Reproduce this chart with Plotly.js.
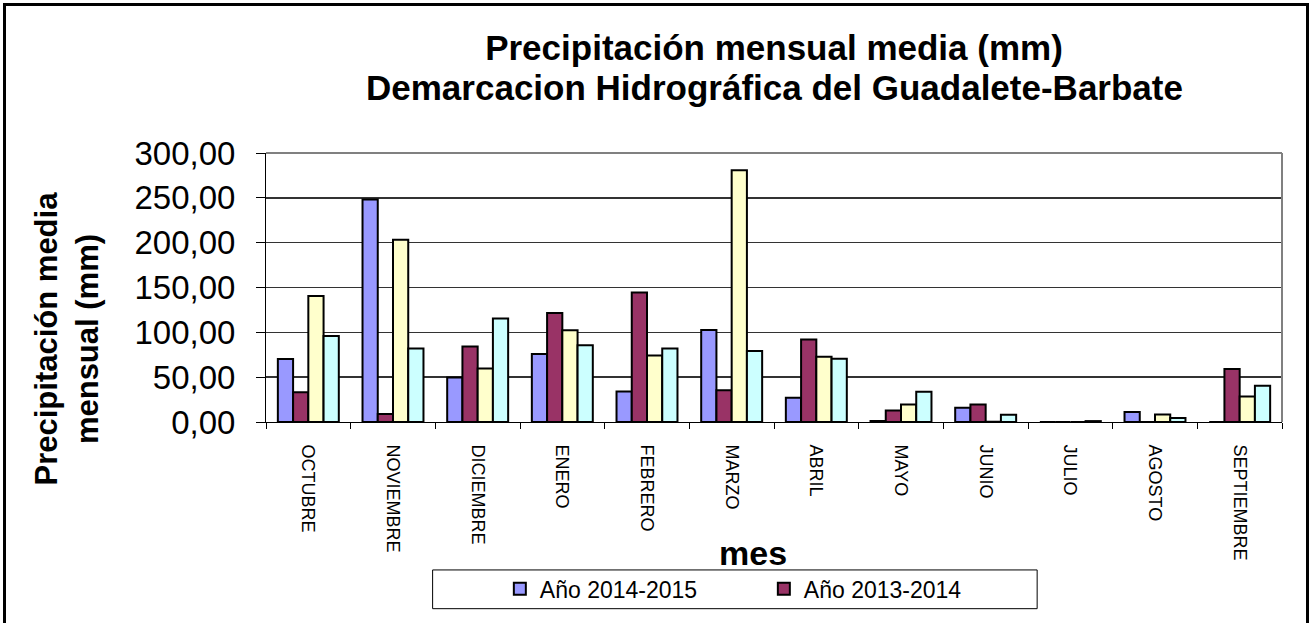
<!DOCTYPE html>
<html>
<head>
<meta charset="utf-8">
<script src="https://cdn.plot.ly/plotly-3.0.1.min.js"></script>
<style>
  html, body { margin: 0; padding: 0; background: #fff; overflow: hidden; }
  #wrap { position: relative; width: 1313px; height: 623px; }
  #chart { position: absolute; left: 0; top: 0; width: 1313px; height: 623px; }
  #frame {
    position: absolute; left: 3px; top: 3px; width: 1300px; height: 640px;
    border: 3px solid #000; pointer-events: none;
  }
</style>
</head>
<body>
<div id="wrap">
  <div id="chart"></div>
  <div id="frame"></div>
</div>
<script>
// Monthly mean rainfall (mm)
const months = ['OCTUBRE', 'NOVIEMBRE', 'DICIEMBRE', 'ENERO', 'FEBRERO', 'MARZO',
                'ABRIL', 'MAYO', 'JUNIO', 'JULIO', 'AGOSTO', 'SEPTIEMBRE'];

const year1415 = [70.2, 248.2, 49.5, 75.7, 34.0, 102.7, 27.0, 1.1, 15.9, 0, 11.1, 0];
const year1314 = [33.2, 8.9, 84.2, 121.5, 144.4, 35.5, 92.0, 12.9, 19.6, 0, 0, 59.1];
const series3 = [140.4, 203.2, 59.8, 102.3, 74.3, 280.8, 72.8, 19.6, 0.3, 0, 8.5, 28.4];
const series4 = [96.0, 82.0, 115.3, 85.7, 82.0, 79.1, 70.6, 33.6, 8.1, 1.0, 4.4, 40.3];

const seriesNames = ['Año 2014-2015', 'Año 2013-2014', 'Serie 3', 'Serie 4'];
const seriesColors = ['#9999FF', '#993366', '#FFFFCC', '#CCFFFF'];
const seriesValues = [year1415, year1314, series3, series4];

const traces = seriesValues.map((vals, i) => ({
    x: months,
    y: vals,
    type: 'bar',
    name: seriesNames[i],
    showlegend: i < 2,   // the legend box only shows the first two series
    marker: {
        color: seriesColors[i],
        line: { color: '#000', width: 2 }
    },
    hoverinfo: 'x+y+name'
}));

const layout = {
    width: 1313,
    height: 623,
    paper_bgcolor: '#fff',
    plot_bgcolor: '#fff',
    separators: ',.',
    font: { family: 'Liberation Sans, Arial, sans-serif', color: '#000' },
    margin: { l: 266, r: 31, t: 153, b: 199 },
    barmode: 'group',
    bargap: 0.28,
    bargroupgap: 0,
    title: {
        text: '<b>Precipitación mensual media (mm)</b>',
        font: { size: 35, color: '#000' },
        xref: 'paper',
        x: 0.5,
        xanchor: 'center',
        yref: 'container',
        y: 0.924,
        yanchor: 'middle'
    },
    xaxis: {
        type: 'category',
        tickangle: 90,
        tickfont: { size: 18 },
        ticks: 'outside',
        tickson: 'boundaries',
        ticklen: 6,
        tickcolor: '#000',
        ticklabelstandoff: 18,
        showline: true,
        linecolor: '#000',
        linewidth: 1,
        showgrid: false,
        fixedrange: true
    },
    yaxis: {
        range: [0, 300],
        dtick: 50,
        tickformat: '.2f',
        tickfont: { size: 33 },
        ticks: 'outside',
        ticklen: 9,
        tickcolor: '#000',
        ticklabelstandoff: 14,
        showline: true,
        linecolor: '#000',
        linewidth: 1,
        gridcolor: '#333',
        gridwidth: 1.5,
        zeroline: false,
        fixedrange: true
    },
    legend: {
        orientation: 'h',
        x: 0.49,
        xanchor: 'center',
        y: -0.62,
        yanchor: 'middle',
        font: { size: 23 },
        entrywidth: 219,
        entrywidthmode: 'pixels',
        bgcolor: 'rgba(0,0,0,0)'
    },
    annotations: [
        {   // second title line
            text: '<b>Demarcacion Hidrográfica del Guadalete-Barbate</b>',
            xref: 'paper', yref: 'paper',
            x: 0.5, y: 1.245,
            xanchor: 'center', yanchor: 'middle',
            showarrow: false,
            font: { size: 35 }
        },
        {   // y axis title
            text: '<b>Precipitación media<br>mensual (mm)</b>',
            xref: 'paper', yref: 'paper',
            x: -0.196, y: 0.31,
            xanchor: 'center', yanchor: 'middle',
            textangle: -90,
            showarrow: false,
            font: { size: 31 }
        },
        {   // x axis title
            text: '<b>mes</b>',
            xref: 'paper', yref: 'paper',
            x: 0.479, y: -0.487,
            xanchor: 'center', yanchor: 'middle',
            showarrow: false,
            font: { size: 34 }
        }
    ],
    shapes: [
        // gray frame on top and right of plot area
        { type: 'line', xref: 'paper', yref: 'paper', x0: 0, x1: 1, y0: 1, y1: 1,
          line: { color: '#808080', width: 2 } },
        { type: 'line', xref: 'paper', yref: 'paper', x0: 1, x1: 1, y0: 0, y1: 1,
          line: { color: '#808080', width: 2 } },
        // legend box
        { type: 'rect', xref: 'paper', yref: 'paper', x0: 0.164, x1: 0.759, y0: -0.550, y1: -0.694,
          line: { color: '#000', width: 1 } }
    ]
};

Plotly.newPlot('chart', traces, layout, { displayModeBar: false, staticPlot: true });
</script>
</body>
</html>
